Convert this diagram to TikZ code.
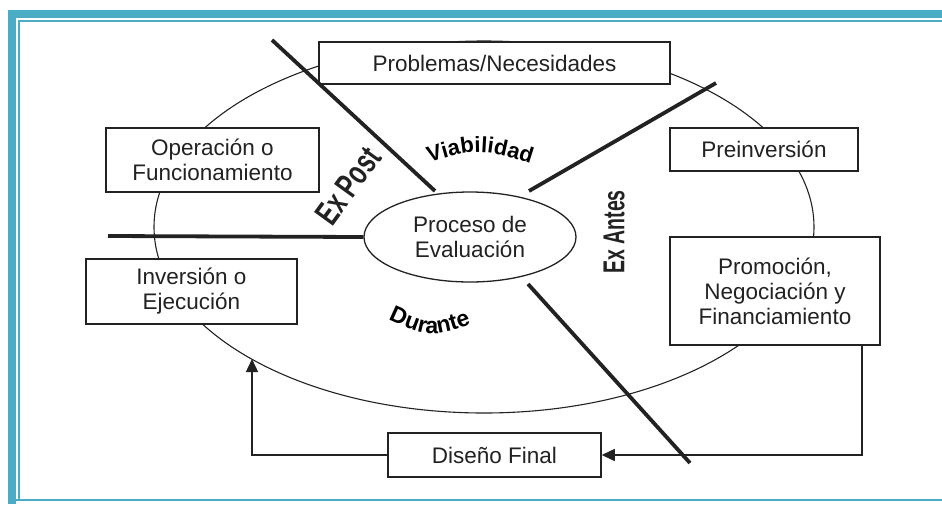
\documentclass[tikz,border=0pt]{standalone}
\usepackage{fontspec}
\setmainfont{Liberation Sans}
\usetikzlibrary{shapes.geometric,arrows.meta,decorations.text}
\definecolor{frameblue}{RGB}{75,172,198}
\definecolor{ink}{RGB}{34,34,34}
\newcommand\bxfont{\fontsize{22.5pt}{25pt}\selectfont}
\newcommand\wafont{\fontsize{23.5pt}{23.5pt}\bfseries\selectfont}
\newcommand\wbfont{\fontsize{23pt}{23pt}\bfseries\selectfont}
\newcommand\wcfont{\fontsize{19.5pt}{19.5pt}\bfseries\selectfont}
\newcommand\wdfont{\fontsize{22pt}{22pt}\bfseries\selectfont}
\begin{document}
\begin{tikzpicture}[x=1pt,y=-1pt,
  box/.style={draw=ink, line width=1.5pt, fill=white, align=center, inner sep=0pt, font=\bxfont, text=ink},
  ring/.style={draw=ink, line width=1.1pt, ellipse, inner sep=0pt},
  thick line/.style={draw=ink, line width=3.8pt},
  arr/.style={draw=ink, line width=1.5pt, -{Triangle[length=13pt,width=12pt]}},
  wordart/.style={text=ink, inner sep=0pt}]
\useasboundingbox (0,0) rectangle (942,504);
% frame
\fill[frameblue] (8,10) rectangle (942,18);
\fill[frameblue] (8,10) rectangle (16,504);
\fill[frameblue] (18,20) rectangle (942,22);
\fill[frameblue] (18,20) rectangle (20,501);
\fill[frameblue] (16,499) rectangle (942,501);
% big ring
\node[ring, minimum width=660pt, minimum height=372pt] (ring) at (484,227) {};
% boxes
\node[box, minimum width=351pt, minimum height=42pt] (prob) at (494.5,63) {Problemas/Necesidades};
\node[box, minimum width=213pt, minimum height=64pt] (oper) at (212.5,160) {Operación o\\Funcionamiento};
\node[box, minimum width=211pt, minimum height=65pt] (inv) at (191.5,291.5) {Inversión o\\Ejecución};
\node[box, minimum width=188pt, minimum height=43pt] (prein) at (764,149.5) {Preinversión};
\node[box, minimum width=210pt, minimum height=108pt] (prom) at (775,291) {Promoción,\\Negociación y\\Financiamiento};
\node[box, minimum width=213pt, minimum height=44pt] (dis) at (494.5,455) {Diseño Final};
\node[box, ellipse, minimum width=212pt, minimum height=90pt, line width=1.3pt] (proc) at (470,237) {Proceso de\\Evaluación};
% connector coordinates
\coordinate (a1) at (272,40);
\coordinate (a2) at (435,191);
\coordinate (b1) at (529,191);
\coordinate (b2) at (716,83);
\coordinate (c1) at (528,284);
\coordinate (c2) at (690,463);
\coordinate (d1) at (108,236);
\coordinate (e1) at (252,359);
% thick dividing lines
\draw[thick line] (a1) -- (a2);
\draw[thick line] (b1) -- (b2);
\draw[thick line] (c1) -- (c2);
\draw[thick line] (d1) -- (proc.west);
% arrows
\draw[arr] ([xshift=-19pt]prom.south east) |- (dis.east);
\draw[arr] (dis.west) -| (e1);
% word art labels
\path[decorate, color=ink, decoration={text along path, text={|\wdfont|Viabilidad}, text align=center}]
  (416,167) .. controls (480,147) .. (544,168);
\path[decorate, color=ink, decoration={text along path, text={|\wbfont|Durante}, text align=center}]
  (372,312) .. controls (430,340) .. (488,318);
\node[wordart, rotate=54, font=\wafont] (expost) at (348,186) {\scalebox{1}[1.45]{Ex Post}};
\node[wordart, rotate=90, font=\wcfont] (exantes) at (614,232) {\scalebox{1}[1.55]{Ex Antes}};
\end{tikzpicture}
\end{document}
